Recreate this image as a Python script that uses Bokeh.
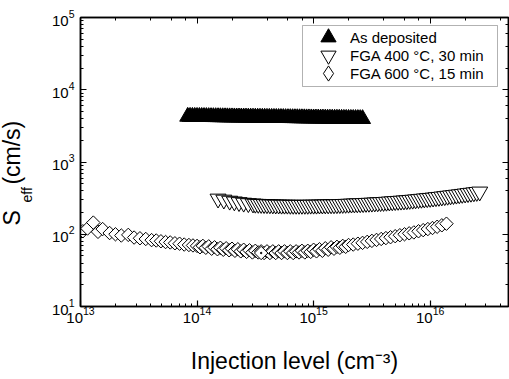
import math
from bokeh.plotting import figure
from bokeh.models import (LogAxis, Label, Range1d, CustomJSTickFormatter, BoxAnnotation,
                          Legend, LegendItem)
from bokeh.embed import file_html
from bokeh.resources import INLINE

# ---------------- data ----------------
asdep_x = [8.318e13, 8.710e13, 9.120e13, 9.550e13, 1.000e14, 1.047e14, 1.096e14, 1.148e14,
           1.202e14, 1.259e14, 1.318e14, 1.380e14, 1.445e14, 1.514e14, 1.585e14, 1.660e14,
           1.738e14, 1.820e14, 1.905e14, 1.995e14, 2.089e14, 2.188e14, 2.291e14, 2.399e14,
           2.512e14, 2.630e14, 2.754e14, 2.884e14, 3.020e14, 3.162e14, 3.311e14, 3.467e14,
           3.631e14, 3.802e14, 3.981e14, 4.169e14, 4.365e14, 4.571e14, 4.786e14, 5.012e14,
           5.248e14, 5.495e14, 5.754e14, 6.026e14, 6.310e14, 6.607e14, 6.918e14, 7.244e14,
           7.586e14, 7.943e14, 8.318e14, 8.710e14, 9.120e14, 9.550e14, 1.000e15, 1.047e15,
           1.096e15, 1.148e15, 1.202e15, 1.259e15, 1.318e15, 1.380e15, 1.445e15, 1.514e15,
           1.585e15, 1.660e15, 1.738e15, 1.820e15, 1.905e15, 1.995e15, 2.089e15, 2.188e15,
           2.291e15, 2.399e15, 2.512e15, 2.630e15]
asdep_y = [4250, 4246, 4242, 4238, 4234, 4230, 4226, 4222, 4218, 4214, 4210, 4206, 4202,
           4198, 4194, 4190, 4186, 4182, 4178, 4174, 4170, 4166, 4162, 4158, 4154, 4150,
           4146, 4142, 4138, 4134, 4130, 4126, 4122, 4118, 4114, 4110, 4106, 4102, 4098,
           4094, 4090, 4086, 4082, 4078, 4074, 4070, 4066, 4062, 4058, 4054, 4050, 4046,
           4042, 4038, 4034, 4030, 4026, 4022, 4018, 4014, 4010, 4006, 4002, 3998, 3994,
           3990, 3986, 3982, 3978, 3974, 3970, 3966, 3962, 3958, 3954, 3950]

fga400_x = [1.514e14, 1.698e14, 1.905e14, 2.089e14, 2.291e14, 2.512e14, 2.754e14, 3.020e14,
            3.162e14, 3.350e14, 3.548e14, 3.758e14, 3.981e14, 4.217e14, 4.467e14, 4.732e14,
            5.012e14, 5.309e14, 5.623e14, 5.957e14, 6.310e14, 6.683e14, 7.079e14, 7.499e14,
            7.943e14, 8.414e14, 8.913e14, 9.441e14, 1.000e15, 1.059e15, 1.122e15, 1.189e15,
            1.259e15, 1.334e15, 1.413e15, 1.496e15, 1.585e15, 1.679e15, 1.778e15, 1.884e15,
            1.995e15, 2.113e15, 2.239e15, 2.371e15, 2.512e15, 2.661e15, 2.818e15, 2.985e15,
            3.162e15, 3.350e15, 3.548e15, 3.758e15, 3.981e15, 4.217e15, 4.467e15, 4.732e15,
            5.012e15, 5.309e15, 5.623e15, 5.957e15, 6.310e15, 6.683e15, 7.079e15, 7.499e15,
            7.943e15, 8.414e15, 8.913e15, 9.441e15, 1.000e16, 1.059e16, 1.122e16, 1.189e16,
            1.259e16, 1.334e16, 1.413e16, 1.496e16, 1.585e16, 1.679e16, 1.778e16, 1.884e16,
            1.995e16, 2.113e16, 2.239e16, 2.371e16, 2.512e16, 2.661e16]
fga400_y = [310, 300, 290, 283, 277, 272, 268, 265,
            263, 262, 261, 260, 259, 258, 257, 256,
            256, 255, 255, 255, 254, 254, 254, 254,
            254, 254, 254, 255, 255, 255, 256, 256,
            257, 257, 258, 258, 259, 260, 261, 262,
            263, 264, 265, 266, 267, 268, 270, 271,
            272, 274, 275, 277, 278, 280, 282, 284,
            286, 288, 290, 292, 294, 297, 299, 302,
            305, 308, 311, 314, 317, 320, 324, 327,
            331, 335, 339, 343, 347, 351, 355, 360,
            364, 369, 373, 378, 383, 388]

fga600_x = [1.047e13, 1.148e13, 1.288e13, 1.413e13, 1.549e13, 1.778e13, 1.995e13, 2.239e13,
            2.570e13, 2.884e13, 3.236e13, 3.631e13, 4.074e13, 4.467e13, 4.898e13, 5.370e13,
            5.888e13, 6.457e13, 7.079e13, 7.762e13, 8.511e13, 9.226e13,
            1.000e14, 1.059e14, 1.122e14, 1.189e14, 1.259e14, 1.334e14, 1.413e14, 1.496e14,
            1.585e14, 1.679e14, 1.778e14, 1.884e14, 1.995e14, 2.113e14, 2.239e14, 2.371e14,
            2.512e14, 2.661e14, 2.818e14, 2.985e14, 3.162e14, 3.350e14, 3.548e14, 3.758e14,
            3.981e14, 4.217e14, 4.467e14, 4.732e14, 5.012e14, 5.309e14, 5.623e14, 5.957e14,
            6.310e14, 6.683e14, 7.079e14, 7.499e14, 7.943e14, 8.414e14, 8.913e14, 9.441e14,
            1.000e15, 1.059e15, 1.122e15, 1.189e15, 1.259e15, 1.334e15, 1.413e15, 1.496e15,
            1.585e15, 1.679e15, 1.778e15, 1.884e15, 1.995e15,
            2.188e15, 2.399e15, 2.630e15, 2.884e15, 3.162e15, 3.467e15, 3.802e15, 4.169e15,
            4.571e15, 5.012e15, 5.495e15, 6.026e15, 6.607e15, 7.244e15, 7.943e15, 8.710e15,
            9.550e15, 1.047e16, 1.148e16, 1.259e16, 1.380e16]
fga600_y = [110, 120, 145, 108, 118, 104, 100, 96,
            98, 90, 88, 86, 83, 82, 80, 78,
            77, 75, 74, 72, 71, 70,
            69, 66, 69, 65, 68, 63, 66, 62,
            65, 61, 64, 60, 63, 59, 62, 58,
            61, 57, 60, 56, 59, 56, 58, 55,
            58, 55, 58, 55, 58, 55, 58, 55,
            58, 55, 58, 56, 59, 56, 59, 57,
            61, 58, 62, 59, 64, 61, 66, 63,
            67, 65, 69, 67, 71,
            72, 74, 76, 78.5, 81, 83.5, 86, 88.5,
            91, 94, 97, 100, 103, 106, 110, 114,
            118, 122, 127, 133, 140]

# the single diamond that is drawn on top of the band
mark600_x = [3.548e14]
mark600_y = [55]

labels = ["As deposited", "FGA 400 \u00b0C, 30 min", "FGA 600 \u00b0C, 15 min"]

FONT = "Liberation Sans"

p = figure(width=509, height=379, x_axis_type="log", y_axis_type="log",
           x_range=Range1d(1e13, 4.7e16), y_range=Range1d(10, 1e5),
           output_backend="svg", toolbar_location=None,
           min_border_left=80, min_border_right=1, min_border_top=17, min_border_bottom=73)
p.grid.visible = False
p.outline_line_color = "black"
p.outline_line_width = 1.5
p.background_fill_color = "white"
p.border_fill_color = "white"

r_dep = p.scatter(asdep_x, asdep_y, marker="triangle", size=16, fill_color="black",
                  line_color="black", line_width=1)
r_400 = p.scatter(fga400_x, fga400_y, marker="inverted_triangle", size=16, fill_color="white",
                  line_color="black", line_width=1)
r_600 = p.scatter(fga600_x, fga600_y, marker="square", angle=math.pi / 4, size=9.5,
                  fill_color="white", line_color="black", line_width=1)
# legend key for the diamonds (legend glyphs are never rotated); hidden under the marked point
r_600_key = p.scatter(mark600_x, mark600_y, marker="diamond", size=11,
                      fill_color="white", line_color="black", line_width=1)
p.scatter(mark600_x, mark600_y, marker="square", angle=math.pi / 4, size=9.5,
          fill_color="white", line_color="black", line_width=1)
p.scatter(mark600_x, mark600_y, marker="circle", size=1.5, fill_color="black",
          line_color="black")

for ax in (p.xaxis[0], p.yaxis[0]):
    ax.major_tick_in = 6
    ax.major_tick_out = 0
    ax.minor_tick_in = 3
    ax.minor_tick_out = 0
    ax.axis_line_width = 1.5
    ax.major_tick_line_width = 1.2
    ax.major_label_text_font = FONT
    ax.major_label_text_font_size = "15px"
    ax.major_label_text_color = "black"

p.xaxis[0].major_label_standoff = 0
p.yaxis[0].major_label_standoff = 6
p.xaxis[0].axis_label = "Injection level (cm\u207b\u00b3)"
p.xaxis[0].axis_label_text_font = FONT
p.xaxis[0].axis_label_text_font_size = "23px"
p.xaxis[0].axis_label_text_font_style = "normal"
p.xaxis[0].axis_label_text_color = "black"
p.xaxis[0].axis_label_standoff = 22

blank = CustomJSTickFormatter(code="return ''")
top = LogAxis(major_tick_in=6, major_tick_out=0, minor_tick_in=3, minor_tick_out=0,
              axis_line_width=1.5, formatter=blank, major_label_standoff=0)
right = LogAxis(major_tick_in=6, major_tick_out=0, minor_tick_in=3, minor_tick_out=0,
                axis_line_width=1.5, formatter=blank, major_label_standoff=0)
p.add_layout(top, "above")
p.add_layout(right, "right")

# y axis label with a subscript, placed in the left side panel
NB = "\u00a0"
p.add_layout(Label(x=-6, y=104, x_units="screen", y_units="screen", text="eff",
                   angle=math.pi / 2, text_font=FONT, text_font_size="14px",
                   text_align="left", text_baseline="alphabetic", text_color="black"), "left")
p.add_layout(Label(x=5, y=81, x_units="screen", y_units="screen",
                   text="S" + NB * 4 + "(cm/s)",
                   angle=math.pi / 2, text_font=FONT, text_font_size="23px",
                   text_align="left", text_baseline="alphabetic", text_color="black"), "left")

# legend: one single-row legend per entry
rows = [(r_dep, labels[0], 250), (r_400, labels[1], 232), (r_600_key, labels[2], 214)]
for rend, lab, ypos in rows:
    lg = Legend(items=[LegendItem(label=lab, renderers=[rend])], location=(226, ypos),
                border_line_color=None, background_fill_alpha=0,
                label_text_font=FONT, label_text_font_size="15px", label_text_color="black",
                label_standoff=0, glyph_width=44, glyph_height=38, label_height=18,
                spacing=0, padding=0, margin=0)
    p.add_layout(lg)

p.add_layout(BoxAnnotation(left=222, right=417, bottom=220, top=281,
                           left_units="screen", right_units="screen",
                           bottom_units="screen", top_units="screen",
                           fill_alpha=0, line_color="black", line_width=1))

open("out.html", "w").write(file_html(p, INLINE))
